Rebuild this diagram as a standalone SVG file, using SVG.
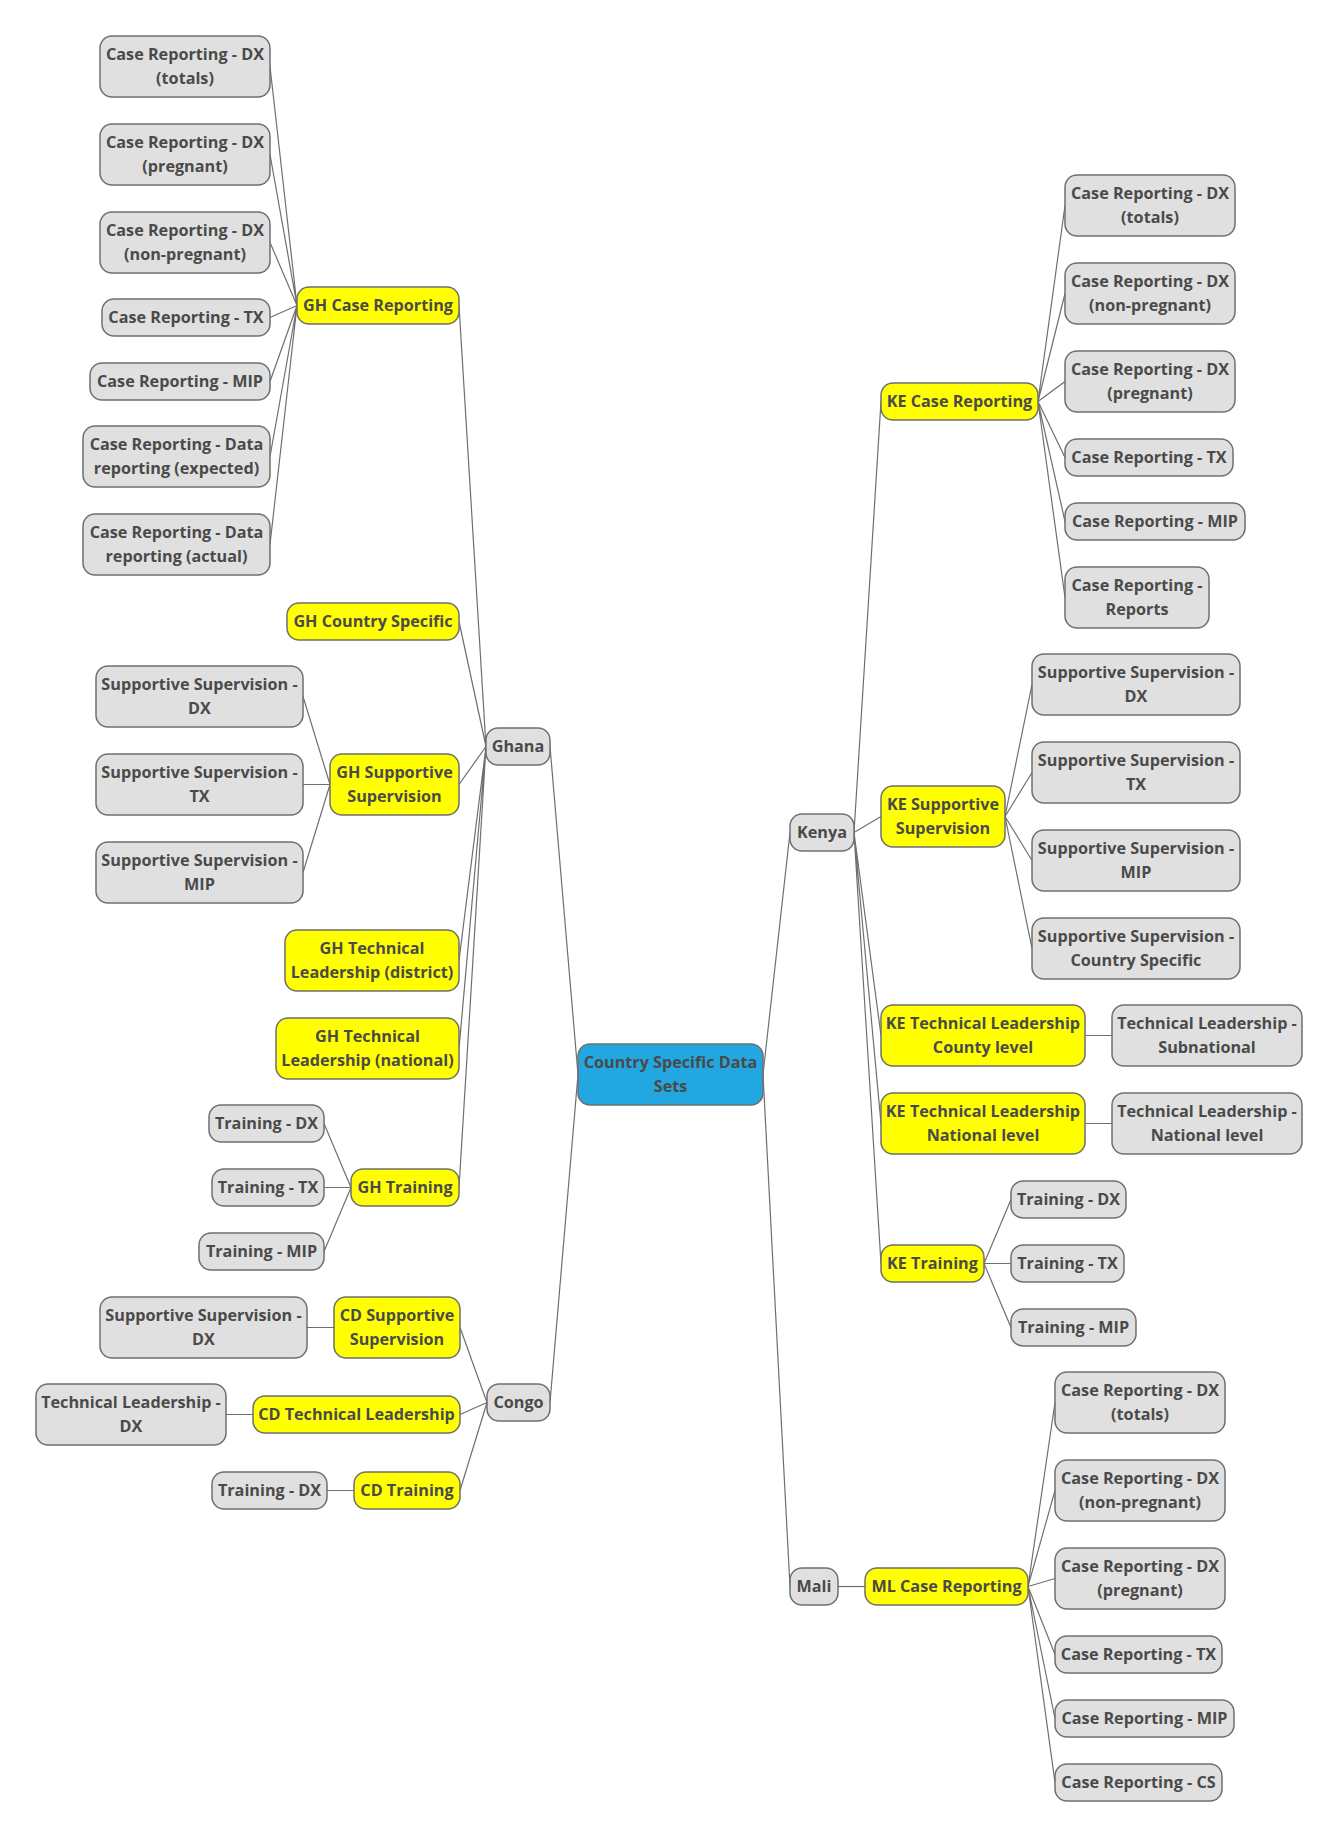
<svg xmlns="http://www.w3.org/2000/svg" width="1339" height="1838" viewBox="0 0 1339 1838">
<style>
rect{stroke:#6f6f6f;stroke-width:1.5;rx:12;ry:12}
.g rect{fill:#e0e0e0}
.y rect{fill:#ffff00}
.b rect{fill:#22a7e0}
text{font-family:"Open Sans","Noto Sans","Liberation Sans",sans-serif;font-weight:bold;font-size:16.2px;fill:#4a4a4a;text-anchor:middle;transform:translate(0px,-1px)}
#edges path{stroke:#6f6f6f;stroke-width:1.2;fill:none}
</style>
<rect width="1339" height="1838" style="fill:#fff;stroke:none"/>
<g id="edges">
<path d="M578,1074.5L550,746.5M578,1074.5L550,1402.5M763,1074.5L790,832.5M763,1074.5L790,1586.5"/>
<path d="M486,746.5L459,305.5M486,746.5L459,621.5M486,746.5L459,784.5M486,746.5L459,960.5M486,746.5L459,1048.5M486,746.5L459,1187.5"/>
<path d="M297,305.5L270,66.5M297,305.5L270,154.5M297,305.5L270,242.5M297,305.5L270,317.5M297,305.5L270,381.5M297,305.5L270,456.5M297,305.5L270,544.5"/>
<path d="M330,784.5L303,696.5M330,784.5L303,784.5M330,784.5L303,872.5"/>
<path d="M351,1187.5L324,1123.5M351,1187.5L324,1187.5M351,1187.5L324,1251.5"/>
<path d="M487,1402.5L460,1327.5M487,1402.5L460,1414.5M487,1402.5L460,1490.5"/>
<path d="M334,1327.5L307,1327.5M253,1414.5L226,1414.5M354,1490.5L327,1490.5"/>
<path d="M854,832.5L881,401.5M854,832.5L881,816.5M854,832.5L881,1035.5M854,832.5L881,1123.5M854,832.5L881,1263.5"/>
<path d="M1038,401.5L1065,205.5M1038,401.5L1065,293.5M1038,401.5L1065,381.5M1038,401.5L1065,457.5M1038,401.5L1065,521.5M1038,401.5L1065,597.5"/>
<path d="M1005,816.5L1032,684.5M1005,816.5L1032,772.5M1005,816.5L1032,860.5M1005,816.5L1032,948.5"/>
<path d="M1085,1035.5L1112,1035.5M1085,1123.5L1112,1123.5"/>
<path d="M984,1263.5L1011,1199.5M984,1263.5L1011,1263.5M984,1263.5L1011,1327.5"/>
<path d="M838,1586.5L865,1586.5"/>
<path d="M1028,1586.5L1055,1402.5M1028,1586.5L1055,1490.5M1028,1586.5L1055,1578.5M1028,1586.5L1055,1654.5M1028,1586.5L1055,1718.5M1028,1586.5L1055,1782.5"/>
</g>

<g id="root" class="b"><rect x="578" y="1044" width="185" height="61"/><text><tspan x="670.5" y="1068.5">Country Specific Data</tspan><tspan x="670.5" y="1092.5">Sets</tspan></text></g>

<g id="ghana" class="g"><rect x="486" y="728" width="64" height="37"/><text x="518" y="752.5">Ghana</text></g>
<g id="congo" class="g"><rect x="487" y="1384" width="63" height="37"/><text x="518.5" y="1408.5">Congo</text></g>
<g id="kenya" class="g"><rect x="790" y="814" width="64" height="37"/><text x="822" y="838.5">Kenya</text></g>
<g id="mali" class="g"><rect x="790" y="1568" width="48" height="37"/><text x="814" y="1592.5">Mali</text></g>

<g id="gh-cr" class="y"><rect x="297" y="287" width="162" height="37"/><text x="378" y="311.5">GH Case Reporting</text></g>
<g id="gh-cr-dx-tot" class="g"><rect x="100" y="36" width="170" height="61"/><text><tspan x="185" y="60.5">Case Reporting - DX</tspan><tspan x="185" y="84.5">(totals)</tspan></text></g>
<g id="gh-cr-dx-preg" class="g"><rect x="100" y="124" width="170" height="61"/><text><tspan x="185" y="148.5">Case Reporting - DX</tspan><tspan x="185" y="172.5">(pregnant)</tspan></text></g>
<g id="gh-cr-dx-np" class="g"><rect x="100" y="212" width="170" height="61"/><text><tspan x="185" y="236.5">Case Reporting - DX</tspan><tspan x="185" y="260.5">(non-pregnant)</tspan></text></g>
<g id="gh-cr-tx" class="g"><rect x="102" y="299" width="168" height="37"/><text x="186" y="323.5">Case Reporting - TX</text></g>
<g id="gh-cr-mip" class="g"><rect x="90" y="363" width="180" height="37"/><text x="180" y="387.5">Case Reporting - MIP</text></g>
<g id="gh-cr-exp" class="g"><rect x="83" y="426" width="187" height="61"/><text><tspan x="176.5" y="450.5">Case Reporting - Data</tspan><tspan x="176.5" y="474.5">reporting (expected)</tspan></text></g>
<g id="gh-cr-act" class="g"><rect x="83" y="514" width="187" height="61"/><text><tspan x="176.5" y="538.5">Case Reporting - Data</tspan><tspan x="176.5" y="562.5">reporting (actual)</tspan></text></g>

<g id="gh-cs" class="y"><rect x="287" y="603" width="172" height="37"/><text x="373" y="627.5">GH Country Specific</text></g>

<g id="gh-ss" class="y"><rect x="330" y="754" width="129" height="61"/><text><tspan x="394.5" y="778.5">GH Supportive</tspan><tspan x="394.5" y="802.5">Supervision</tspan></text></g>
<g id="gh-ss-dx" class="g"><rect x="96" y="666" width="207" height="61"/><text><tspan x="199.5" y="690.5">Supportive Supervision -</tspan><tspan x="199.5" y="714.5">DX</tspan></text></g>
<g id="gh-ss-tx" class="g"><rect x="96" y="754" width="207" height="61"/><text><tspan x="199.5" y="778.5">Supportive Supervision -</tspan><tspan x="199.5" y="802.5">TX</tspan></text></g>
<g id="gh-ss-mip" class="g"><rect x="96" y="842" width="207" height="61"/><text><tspan x="199.5" y="866.5">Supportive Supervision -</tspan><tspan x="199.5" y="890.5">MIP</tspan></text></g>

<g id="gh-tl-d" class="y"><rect x="285" y="930" width="174" height="61"/><text><tspan x="372" y="954.5">GH Technical</tspan><tspan x="372" y="978.5">Leadership (district)</tspan></text></g>
<g id="gh-tl-n" class="y"><rect x="276" y="1018" width="183" height="61"/><text><tspan x="367.5" y="1042.5">GH Technical</tspan><tspan x="367.5" y="1066.5">Leadership (national)</tspan></text></g>

<g id="gh-tr" class="y"><rect x="351" y="1169" width="108" height="37"/><text x="405" y="1193.5">GH Training</text></g>
<g id="gh-tr-dx" class="g"><rect x="209" y="1105" width="115" height="37"/><text x="266.5" y="1129.5">Training - DX</text></g>
<g id="gh-tr-tx" class="g"><rect x="212" y="1169" width="112" height="37"/><text x="268" y="1193.5">Training - TX</text></g>
<g id="gh-tr-mip" class="g"><rect x="199" y="1233" width="125" height="37"/><text x="261.5" y="1257.5">Training - MIP</text></g>

<g id="cd-ss" class="y"><rect x="334" y="1297" width="126" height="61"/><text><tspan x="397" y="1321.5">CD Supportive</tspan><tspan x="397" y="1345.5">Supervision</tspan></text></g>
<g id="cd-ss-dx" class="g"><rect x="100" y="1297" width="207" height="61"/><text><tspan x="203.5" y="1321.5">Supportive Supervision -</tspan><tspan x="203.5" y="1345.5">DX</tspan></text></g>
<g id="cd-tl" class="y"><rect x="253" y="1396" width="207" height="37"/><text x="356.5" y="1420.5">CD Technical Leadership</text></g>
<g id="cd-tl-dx" class="g"><rect x="36" y="1384" width="190" height="61"/><text><tspan x="131" y="1408.5">Technical Leadership -</tspan><tspan x="131" y="1432.5">DX</tspan></text></g>
<g id="cd-tr" class="y"><rect x="354" y="1472" width="106" height="37"/><text x="407" y="1496.5">CD Training</text></g>
<g id="cd-tr-dx" class="g"><rect x="212" y="1472" width="115" height="37"/><text x="269.5" y="1496.5">Training - DX</text></g>

<g id="ke-cr" class="y"><rect x="881" y="383" width="157" height="37"/><text x="959.5" y="407.5">KE Case Reporting</text></g>
<g id="ke-cr-dx-tot" class="g"><rect x="1065" y="175" width="170" height="61"/><text><tspan x="1150" y="199.5">Case Reporting - DX</tspan><tspan x="1150" y="223.5">(totals)</tspan></text></g>
<g id="ke-cr-dx-np" class="g"><rect x="1065" y="263" width="170" height="61"/><text><tspan x="1150" y="287.5">Case Reporting - DX</tspan><tspan x="1150" y="311.5">(non-pregnant)</tspan></text></g>
<g id="ke-cr-dx-preg" class="g"><rect x="1065" y="351" width="170" height="61"/><text><tspan x="1150" y="375.5">Case Reporting - DX</tspan><tspan x="1150" y="399.5">(pregnant)</tspan></text></g>
<g id="ke-cr-tx" class="g"><rect x="1065" y="439" width="168" height="37"/><text x="1149" y="463.5">Case Reporting - TX</text></g>
<g id="ke-cr-mip" class="g"><rect x="1065" y="503" width="180" height="37"/><text x="1155" y="527.5">Case Reporting - MIP</text></g>
<g id="ke-cr-rep" class="g"><rect x="1065" y="567" width="144" height="61"/><text><tspan x="1137" y="591.5">Case Reporting -</tspan><tspan x="1137" y="615.5">Reports</tspan></text></g>

<g id="ke-ss" class="y"><rect x="881" y="786" width="124" height="61"/><text><tspan x="943" y="810.5">KE Supportive</tspan><tspan x="943" y="834.5">Supervision</tspan></text></g>
<g id="ke-ss-dx" class="g"><rect x="1032" y="654" width="208" height="61"/><text><tspan x="1136" y="678.5">Supportive Supervision -</tspan><tspan x="1136" y="702.5">DX</tspan></text></g>
<g id="ke-ss-tx" class="g"><rect x="1032" y="742" width="208" height="61"/><text><tspan x="1136" y="766.5">Supportive Supervision -</tspan><tspan x="1136" y="790.5">TX</tspan></text></g>
<g id="ke-ss-mip" class="g"><rect x="1032" y="830" width="208" height="61"/><text><tspan x="1136" y="854.5">Supportive Supervision -</tspan><tspan x="1136" y="878.5">MIP</tspan></text></g>
<g id="ke-ss-cs" class="g"><rect x="1032" y="918" width="208" height="61"/><text><tspan x="1136" y="942.5">Supportive Supervision -</tspan><tspan x="1136" y="966.5">Country Specific</tspan></text></g>

<g id="ke-tl-c" class="y"><rect x="881" y="1005" width="204" height="61"/><text><tspan x="983" y="1029.5">KE Technical Leadership</tspan><tspan x="983" y="1053.5">County level</tspan></text></g>
<g id="ke-tl-sub" class="g"><rect x="1112" y="1005" width="190" height="61"/><text><tspan x="1207" y="1029.5">Technical Leadership -</tspan><tspan x="1207" y="1053.5">Subnational</tspan></text></g>
<g id="ke-tl-n" class="y"><rect x="881" y="1093" width="204" height="61"/><text><tspan x="983" y="1117.5">KE Technical Leadership</tspan><tspan x="983" y="1141.5">National level</tspan></text></g>
<g id="ke-tl-nat" class="g"><rect x="1112" y="1093" width="190" height="61"/><text><tspan x="1207" y="1117.5">Technical Leadership -</tspan><tspan x="1207" y="1141.5">National level</tspan></text></g>

<g id="ke-tr" class="y"><rect x="881" y="1245" width="103" height="37"/><text x="932.5" y="1269.5">KE Training</text></g>
<g id="ke-tr-dx" class="g"><rect x="1011" y="1181" width="115" height="37"/><text x="1068.5" y="1205.5">Training - DX</text></g>
<g id="ke-tr-tx" class="g"><rect x="1011" y="1245" width="113" height="37"/><text x="1067.5" y="1269.5">Training - TX</text></g>
<g id="ke-tr-mip" class="g"><rect x="1011" y="1309" width="125" height="37"/><text x="1073.5" y="1333.5">Training - MIP</text></g>

<g id="ml-cr" class="y"><rect x="865" y="1568" width="163" height="37"/><text x="946.5" y="1592.5">ML Case Reporting</text></g>
<g id="ml-cr-dx-tot" class="g"><rect x="1055" y="1372" width="170" height="61"/><text><tspan x="1140" y="1396.5">Case Reporting - DX</tspan><tspan x="1140" y="1420.5">(totals)</tspan></text></g>
<g id="ml-cr-dx-np" class="g"><rect x="1055" y="1460" width="170" height="61"/><text><tspan x="1140" y="1484.5">Case Reporting - DX</tspan><tspan x="1140" y="1508.5">(non-pregnant)</tspan></text></g>
<g id="ml-cr-dx-preg" class="g"><rect x="1055" y="1548" width="170" height="61"/><text><tspan x="1140" y="1572.5">Case Reporting - DX</tspan><tspan x="1140" y="1596.5">(pregnant)</tspan></text></g>
<g id="ml-cr-tx" class="g"><rect x="1055" y="1636" width="167" height="37"/><text x="1138.5" y="1660.5">Case Reporting - TX</text></g>
<g id="ml-cr-mip" class="g"><rect x="1055" y="1700" width="179" height="37"/><text x="1144.5" y="1724.5">Case Reporting - MIP</text></g>
<g id="ml-cr-cs" class="g"><rect x="1055" y="1764" width="167" height="37"/><text x="1138.5" y="1788.5">Case Reporting - CS</text></g>
</svg>
